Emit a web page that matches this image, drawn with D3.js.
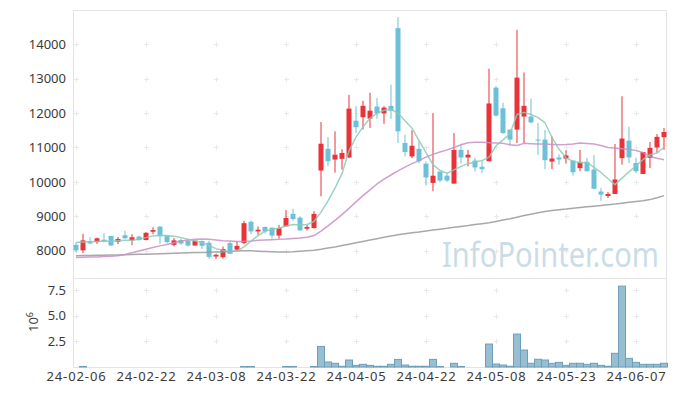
<!DOCTYPE html>
<meta charset="utf-8">
<style>
body { margin: 0; background: #fff; }
.axis text { font: 13px "Noto Sans", sans-serif; fill: #3a3a3a; }
.axis.xax text { letter-spacing: 0.9px; }
.axis path, .axis line { display: none; }
.frame { fill: none; stroke: #e4e4e4; }
.cross { stroke: #e9e9e9; stroke-width: 1; }
.wick { stroke-width: 1; }
.ma { fill: none; stroke-width: 1.5; stroke-linejoin: round; }
.vol { fill: #98bfd1; stroke: #6e9fba; stroke-width: 1; }
</style>
<svg class="chart"></svg>
<script src="https://cdnjs.cloudflare.com/ajax/libs/d3/7.8.5/d3.min.js"></script>
<script>
var dates = ["24-02-06","24-02-07","24-02-08","24-02-13","24-02-14","24-02-15","24-02-16","24-02-19","24-02-20","24-02-21",
	"24-02-22","24-02-23","24-02-26","24-02-27","24-02-28","24-02-29","24-03-04","24-03-05","24-03-06","24-03-07",
	"24-03-08","24-03-11","24-03-12","24-03-13","24-03-14","24-03-15","24-03-18","24-03-19","24-03-20","24-03-21",
	"24-03-22","24-03-25","24-03-26","24-03-27","24-03-28","24-03-29","24-04-01","24-04-02","24-04-03","24-04-04",
	"24-04-05","24-04-08","24-04-09","24-04-11","24-04-12","24-04-15","24-04-16","24-04-17","24-04-18","24-04-19",
	"24-04-22","24-04-23","24-04-24","24-04-25","24-04-26","24-04-29","24-04-30","24-05-02","24-05-03","24-05-07",
	"24-05-08","24-05-09","24-05-10","24-05-13","24-05-14","24-05-16","24-05-17","24-05-20","24-05-21","24-05-22",
	"24-05-23","24-05-24","24-05-27","24-05-28","24-05-29","24-05-30","24-05-31","24-06-03","24-06-04","24-06-05",
	"24-06-07","24-06-10","24-06-11","24-06-12","24-06-13"];

var opens = [8170,8010,8280,8250,8320,8430,8260,8450,8300,8410,
	8310,8550,8700,8430,8170,8310,8290,8150,8280,8230,
	7830,7810,8220,8030,8220,8840,8560,8690,8670,8440,
	8710,9070,8960,8640,8660,10330,10960,10650,10670,10710,
	11780,11880,11840,12190,11990,12210,14470,11130,10740,10960,
	10530,9970,10300,10180,9950,10930,10710,10620,10440,10600,
	12740,12140,11520,11520,11900,11900,11230,11230,10590,10710,
	10680,10620,10400,10580,10360,9720,9590,9650,10690,11200,
	10550,10230,10700,11000,11300];
var highs = [8240,8490,8390,8380,8510,8430,8400,8580,8480,8440,
	8540,8680,8710,8430,8370,8350,8300,8290,8300,8290,
	7910,8120,8270,8270,8870,8880,8700,8700,8670,8750,
	9180,9220,9000,8750,9150,11740,11300,11470,10950,12530,
	12200,12360,12590,12440,12200,12830,14790,11370,11500,11190,
	10600,12000,10300,10240,11420,11110,10930,10700,10600,13290,
	12780,12300,11520,14420,13180,12420,11710,11510,11320,10800,
	10920,10620,10930,10700,10780,9820,9710,11100,12490,11600,
	10700,10870,11160,11390,11570];
var lows = [7960,7930,8200,8200,8240,8150,8190,8350,8160,8290,
	8300,8480,8200,8210,8120,8170,8120,8150,8050,7760,
	7760,7770,7910,7990,8190,8480,8460,8500,8350,8350,
	8690,8870,8580,8590,8640,9580,10460,10270,10360,10700,
	11420,11520,11570,11830,11690,11830,11130,10740,10690,10540,
	9900,9730,9990,10000,9950,10530,10450,10300,10260,10600,
	11900,11400,11050,11130,11130,11700,10790,10370,10370,10500,
	10530,10180,10310,10300,9780,9450,9530,9650,10500,10550,
	10260,10230,10400,10850,10930];
var closes = [8010,8300,8210,8360,8280,8150,8340,8360,8390,8310,
	8520,8600,8420,8250,8300,8210,8150,8290,8140,7820,
	7880,8050,7910,8140,8800,8560,8610,8560,8440,8660,
	8950,8920,8590,8690,9070,11110,10600,10790,10840,12130,
	11590,12210,12070,11990,12160,12070,11470,10870,11050,10600,
	10130,10180,10040,10040,10930,10710,10790,10420,10370,12280,
	11930,11420,11230,13030,12210,11730,11200,10630,10680,10650,
	10770,10280,10580,10310,9800,9630,9650,10070,11260,10710,
	10310,10870,10990,11310,11450];

// volume, millions
var volume = [0,0.05,0,0,0,0,0,0,0,0,
	0,0,0,0,0,0,0,0,0,0,
	0,0,0,0,0.05,0.05,0,0,0,0,
	0.05,0.05,0,0,0.05,2.0,0.49,0.36,0.07,0.68,
	0.16,0.26,0.16,0.07,0.07,0.26,0.74,0.19,0.07,0.07,
	0.07,0.74,0.05,0,0.36,0.05,0,0,0,2.23,
	0.29,0.19,0.07,3.2,1.65,0.36,0.75,0.68,0.36,0.45,
	0.16,0.36,0.36,0.26,0.36,0.16,0.07,1.33,7.86,0.84,
	0.45,0.26,0.26,0.26,0.36];

var ma5 = [8240,8250,8260,8270,8280,8270,8290,8300,8300,8330,
	8380,8430,8450,8440,8420,8380,8330,8290,8240,8150,
	8060,8010,7970,7990,8110,8280,8440,8570,8620,8650,
	8720,8760,8750,8760,8850,9120,9450,9820,10240,10900,
	11300,11600,11850,11990,12080,12110,12000,11780,11560,11200,
	10850,10500,10330,10250,10350,10450,10530,10580,10620,10720,
	11050,11220,11400,11960,12020,11960,11870,11720,11290,10950,
	10700,10600,10560,10570,10420,10275,10090,9920,10110,10290,
	10470,10645,10790,10840,11000];
var ma20 = [7805,7810,7815,7820,7830,7835,7850,7890,7940,7990,
	8040,8090,8140,8180,8230,8280,8310,8330,8340,8330,
	8310,8290,8280,8270,8270,8280,8300,8310,8320,8330,
	8340,8355,8370,8390,8440,8570,8720,8880,9050,9230,
	9420,9600,9770,9940,10080,10200,10320,10430,10530,10620,
	10720,10800,10870,10930,11000,11080,11140,11150,11150,11140,
	11130,11120,11080,11060,11120,11110,11100,11100,11090,11080,
	11085,11100,11130,11115,11100,11060,11000,10985,10965,10945,
	10915,10850,10740,10690,10645];
var ma60 = [7855,7858,7862,7866,7870,7874,7878,7882,7886,7893,
	7900,7907,7914,7921,7928,7935,7940,7945,7950,7955,
	7960,7965,7975,7990,8000,7995,7985,7978,7970,7965,
	7962,7970,7985,8000,8015,8045,8080,8110,8150,8190,
	8230,8270,8310,8350,8390,8425,8460,8490,8520,8545,
	8575,8600,8625,8650,8680,8705,8730,8760,8785,8810,
	8850,8890,8930,8975,9020,9060,9100,9140,9165,9190,
	9210,9235,9255,9275,9295,9315,9335,9355,9380,9405,
	9430,9455,9485,9540,9600];

var priceTicks = [8000,9000,10000,11000,12000,13000,14000];
var volTicks = [2.5,5.0,7.5];
var dateTicks = [0,10,20,30,40,50,60,70,80];

var W = 677, H = 396;
var pLeft = 73, pRight = 667, pTop = 10, pMid = 278, pBottom = 367;

var svg = d3.select(".chart").attr("width", W).attr("height", H);
svg.append("rect").attr("width", W).attr("height", H).attr("fill", "#fff");

var x = d3.scaleLinear().domain([-0.43, 84.43]).range([pLeft, pRight]);
var y = d3.scaleLinear().domain([7206, 14997]).range([pMid, pTop]);
var yv = d3.scaleLinear().domain([0, 8.65]).range([pBottom, pMid]);

// frames
svg.append("rect").attr("class", "frame")
	.attr("x", pLeft + 0.5).attr("y", pTop + 0.5)
	.attr("width", pRight - pLeft - 1).attr("height", pMid - pTop);
svg.append("rect").attr("class", "frame")
	.attr("x", pLeft + 0.5).attr("y", pMid + 0.5)
	.attr("width", pRight - pLeft - 1).attr("height", pBottom - pMid);

// grid crosses
function crosses(ticks, scale) {
	var pts = [];
	dateTicks.forEach(function(d){ ticks.forEach(function(t){ pts.push([Math.round(x(d)) + 0.5, Math.round(scale(t)) + 0.5]); }); });
	var g = svg.append("g");
	g.selectAll(".ch").data(pts).enter().append("line").attr("class", "cross")
		.attr("x1", function(p){ return p[0] - 2.5; }).attr("x2", function(p){ return p[0] + 2.5; })
		.attr("y1", function(p){ return p[1]; }).attr("y2", function(p){ return p[1]; });
	g.selectAll(".cv").data(pts).enter().append("line").attr("class", "cross")
		.attr("x1", function(p){ return p[0]; }).attr("x2", function(p){ return p[0]; })
		.attr("y1", function(p){ return p[1] - 2.5; }).attr("y2", function(p){ return p[1] + 2.5; });
}
crosses(priceTicks, y);
crosses(volTicks, yv);

// watermark
svg.append("text")
	.attr("x", 442).attr("y", 267)
	.attr("textLength", 217).attr("lengthAdjust", "spacingAndGlyphs")
	.style("font", "35px 'Noto Sans', sans-serif")
	.attr("fill", "#cadde7")
	.text("InfoPointer.com");

// axes
svg.append("g").attr("class", "axis")
	.attr("transform", "translate(" + pLeft + ",0)")
	.call(d3.axisLeft(y).tickValues(priceTicks).tickSize(0).tickPadding(7).tickFormat(d3.format("d")));
svg.append("g").attr("class", "axis")
	.attr("transform", "translate(" + pLeft + ",0)")
	.call(d3.axisLeft(yv).tickValues(volTicks).tickSize(0).tickPadding(7).tickFormat(d3.format(".1f")));
svg.append("g").attr("class", "axis xax")
	.attr("transform", "translate(0," + pBottom + ")")
	.call(d3.axisBottom(x).tickValues(dateTicks).tickSize(0).tickPadding(5)
		.tickFormat(function(i){ return dates[i]; }));

var unit = svg.append("text")
	.attr("transform", "translate(38,322) rotate(-90)")
	.attr("text-anchor", "middle")
	.style("font", "13px 'Noto Sans', sans-serif").attr("fill", "#3a3a3a");
unit.append("tspan").text("10");
unit.append("tspan").attr("dy", -5).style("font-size", "9px").text("6");

// volume bars
var idx = d3.range(dates.length);
svg.append("g").selectAll(".vol")
	.data(idx.filter(function(i){ return volume[i] > 0; }))
	.enter().append("rect").attr("class", "vol")
	.attr("x", function(i){ return x(i) - 3.5; })
	.attr("width", 7)
	.attr("y", function(i){ return yv(volume[i]); })
	.attr("height", function(i){ return pBottom - yv(volume[i]); });

// candles
var up = "#e93338", down = "#6cc1d8";
var candle = svg.append("g").selectAll(".candle").data(idx).enter().append("g");
candle.append("line").attr("class", "wick")
	.attr("x1", function(i){ return x(i); }).attr("x2", function(i){ return x(i); })
	.attr("y1", function(i){ return y(highs[i]); }).attr("y2", function(i){ return y(lows[i]); })
	.attr("stroke", function(i){ return closes[i] >= opens[i] ? up : down; });
candle.append("rect")
	.attr("x", function(i){ return x(i) - 2.5; })
	.attr("width", 5)
	.attr("y", function(i){ return y(Math.max(opens[i], closes[i])); })
	.attr("height", function(i){ return Math.max(1, Math.abs(y(opens[i]) - y(closes[i]))); })
	.attr("fill", function(i){ return closes[i] >= opens[i] ? up : down; });

// moving averages
function maLine(arr, color) {
	svg.append("path").attr("class", "ma")
		.attr("stroke", color).attr("stroke-opacity", 0.85)
		.attr("d", d3.line().x(function(i){ return x(i); }).y(function(i){ return y(arr[i]); })(idx));
}
maLine(ma60, "#999999");
maLine(ma20, "#c98fc4");
maLine(ma5, "#8ccab9");
</script>
